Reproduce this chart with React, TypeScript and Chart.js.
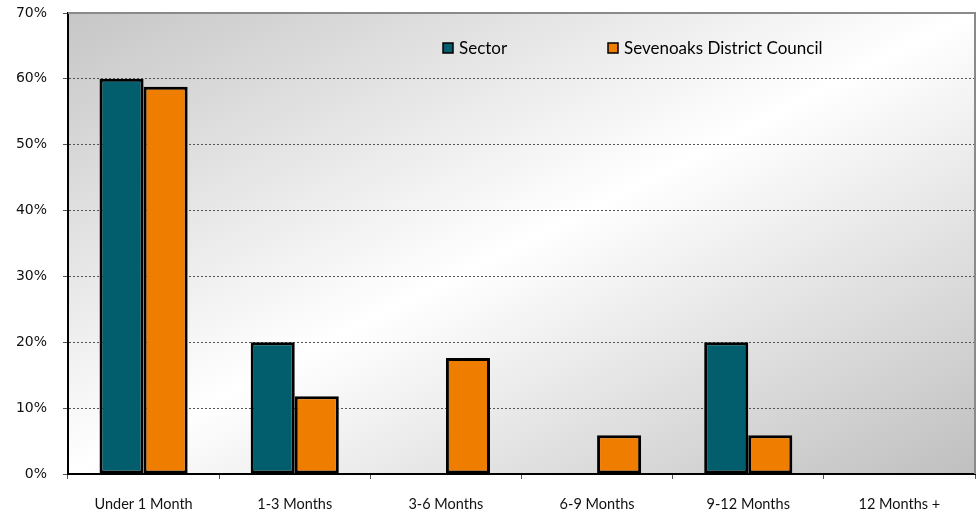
import React, { useEffect, useRef } from "react";
import { Chart, registerables } from "chart.js";

Chart.register(...registerables);

const categories = ["Under 1 Month", "1-3 Months", "3-6 Months", "6-9 Months", "9-12 Months", "12 Months +"];
const sectorValues = [60, 20, 0, 0, 20, 0];
const sevenoaksValues = [58.8, 11.8, 17.6, 5.9, 5.9, 0];
const seriesNames = ["Sector", "Sevenoaks District Council"];
const seriesColors = ["#025E6D", "#EE7D00"];

const backgroundPlugin = {
  id: "plotBg",
  beforeDraw(chart: any) {
    const { ctx, chartArea } = chart;
    const { left, top, right, bottom } = chartArea;
    ctx.save();
    ctx.translate(left, top);
    ctx.scale(right - left, bottom - top);
    const g = ctx.createLinearGradient(0, 0, 1, 1);
    g.addColorStop(0, "#c6c6c6");
    g.addColorStop(0.5, "#ffffff");
    g.addColorStop(1, "#bfbfbf");
    ctx.fillStyle = g;
    ctx.fillRect(0, 0, 1, 1);
    ctx.restore();
  },
  afterDraw(chart: any) {
    const { ctx, chartArea } = chart;
    const { left, top, right, bottom } = chartArea;
    ctx.save();
    ctx.strokeStyle = "#8a8a8a";
    ctx.lineWidth = 2;
    ctx.beginPath();
    ctx.moveTo(left, top);
    ctx.lineTo(right, top);
    ctx.lineTo(right, bottom);
    ctx.stroke();
    // legend
    ctx.font = "17px Lato";
    ctx.textBaseline = "middle";
    ctx.textAlign = "left";
    const items = [
      { x: 443, label: seriesNames[0], color: seriesColors[0] },
      { x: 608, label: seriesNames[1], color: seriesColors[1] },
    ];
    const y = 48;
    for (const it of items) {
      ctx.fillStyle = it.color;
      ctx.fillRect(it.x, y - 5, 10, 10);
      ctx.strokeStyle = "#000";
      ctx.lineWidth = 1.5;
      ctx.strokeRect(it.x, y - 5, 10, 10);
      ctx.fillStyle = "#000";
      ctx.fillText(it.label, it.x + 16, y + 1);
    }
    ctx.restore();
  },
};

export default function App() {
  const ref = useRef<HTMLCanvasElement>(null);
  useEffect(() => {
    if (!ref.current) return;
    const chart = new Chart(ref.current, {
      type: "bar",
      data: {
        labels: categories,
        datasets: [
          {
            label: seriesNames[0],
            data: sectorValues,
            backgroundColor: seriesColors[0],
            borderColor: "#000",
            borderWidth: 3,
            borderSkipped: false,
          },
          {
            label: seriesNames[1],
            data: sevenoaksValues,
            backgroundColor: seriesColors[1],
            borderColor: "#000",
            borderWidth: 3,
            borderSkipped: false,
          },
        ],
      },
      options: {
        responsive: false,
        animation: false,
        layout: { padding: { top: 13, right: 3, left: 0, bottom: 0 } },
        datasets: { bar: { categoryPercentage: 0.583, barPercentage: 1 } },
        plugins: { legend: { display: false }, tooltip: { enabled: false }, title: { display: false } },
        scales: {
          x: {
            afterFit(scale: any) {
              scale.height = 41;
              scale.paddingTop = 0;
              scale.paddingBottom = 0;
            },
            grid: { drawOnChartArea: false, tickLength: 5, tickColor: "#555", offset: true },
            border: { color: "#000", width: 2 },
            ticks: { color: "#111", font: { family: "Lato", size: 14.5 }, padding: 17, maxRotation: 0 },
          },
          y: {
            min: 0,
            max: 70,
            afterFit(scale: any) {
              scale.width = 68;
              scale.paddingTop = 0;
              scale.paddingBottom = 0;
            },
            grid: { color: "#555", tickLength: 5, tickColor: "#555", tickBorderDash: [] },
            border: { color: "#000", width: 2, dash: [2, 2] },
            ticks: {
              stepSize: 10,
              color: "#111",
              font: { family: "DejaVu Sans", size: 14 },
              padding: 16,
              callback: (v: any) => v + "%",
            },
          },
        },
      },
      plugins: [backgroundPlugin],
    });
    return () => chart.destroy();
  }, []);
  return (
    <div style={{ position: "fixed", left: 0, top: 0, width: 978, height: 515, background: "#fff" }}>
      <canvas ref={ref} width={978} height={515} style={{ display: "block", width: 978, height: 515 }} />
    </div>
  );
}
